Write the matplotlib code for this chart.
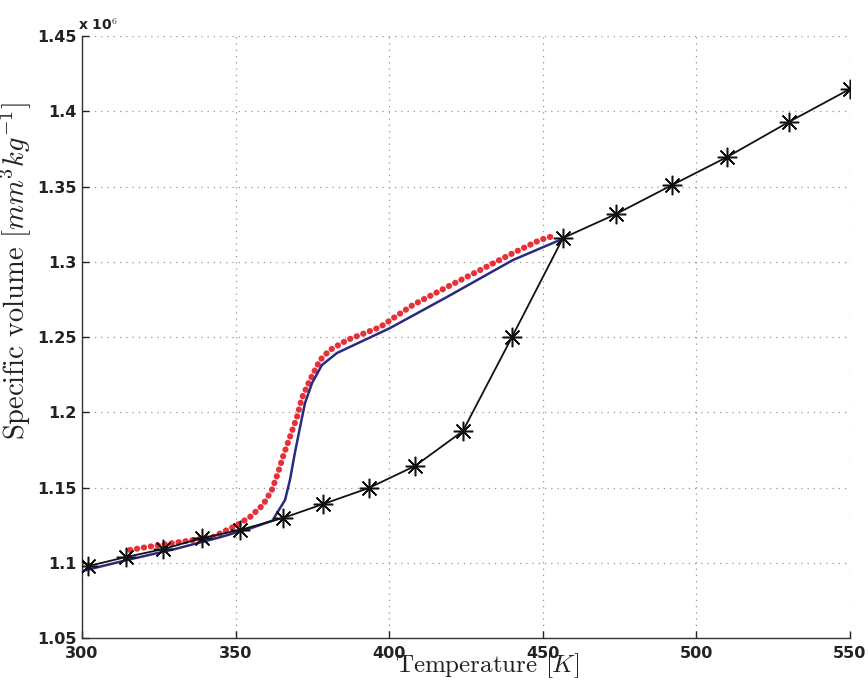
import matplotlib
matplotlib.use("Agg")
import matplotlib.pyplot as plt
from matplotlib.ticker import FuncFormatter, MultipleLocator

plt.rcParams['mathtext.fontset'] = 'cm'

# Black line with asterisks (equilibrium / model)
T_star = [302.0, 314.3, 326.4, 339.1, 351.4, 365.4, 378.5, 393.4, 408.4, 424.0,
          440.0, 456.6, 473.8, 492.1, 510.0, 530.1, 550.0]
V_star = [1.0978, 1.1038, 1.1091, 1.1164, 1.1218, 1.1297, 1.1390, 1.1497, 1.1643, 1.1875,
          1.2500, 1.3158, 1.3317, 1.3510, 1.3696, 1.3929, 1.4148]

# Red dotted series (measured)
T_red = [315.6, 321.2, 331.9, 342.6, 350.5, 354.7, 358.9, 361.8, 363.8, 365.4, 367.7,
         370.0, 371.6, 374.2, 377.5, 380.7, 386.3, 397.0, 407.7, 418.8, 429.6, 440.3,
         449.1, 453.3]
V_red = [1.1085, 1.1105, 1.1138, 1.1171, 1.1251, 1.1304, 1.1384, 1.1483, 1.1596, 1.1703,
         1.1836, 1.1968, 1.2095, 1.2214, 1.2347, 1.2414, 1.2480, 1.2566, 1.2713, 1.2832,
         1.2945, 1.3058, 1.3145, 1.3171]

# Blue solid series (simulated)
T_blue = [300.0, 315.0, 330.0, 345.0, 355.0, 362.0, 363.5, 366.1, 367.7, 369.3, 371.0,
          372.6, 374.9, 378.1, 383.0, 400.3, 418.8, 440.3, 455.6]
V_blue = [1.0945, 1.1020, 1.1090, 1.1170, 1.1230, 1.1280, 1.1331, 1.1417, 1.1550, 1.1729,
          1.1902, 1.2061, 1.2194, 1.2314, 1.2394, 1.2560, 1.2766, 1.3012, 1.3145]

scale = 1e6

fig = plt.figure(figsize=(8.68, 6.82), dpi=100)
ax = fig.add_axes([0.0945, 0.0645, 0.8845, 0.8825])

ax.plot(T_red, [v * scale for v in V_red], color='#e8303a', lw=4.4,
        linestyle=(0, (0.05, 1.1)), dash_capstyle='round', zorder=2)
ax.plot(T_blue, [v * scale for v in V_blue], color='#2a2a80', lw=1.8, zorder=3)
ax.plot(T_star, [v * scale for v in V_star], color='#111111', lw=1.3,
        marker=(8, 2, 0), markersize=14, markeredgewidth=1.1, zorder=4)

ax.set_xlim(300, 550)
ax.set_ylim(1.05 * scale, 1.45 * scale)
ax.xaxis.set_major_locator(MultipleLocator(50))
ax.yaxis.set_major_locator(MultipleLocator(0.05 * scale))
ax.yaxis.set_major_formatter(FuncFormatter(lambda v, _: f'{v / scale:g}'))

ax.grid(True, color='#a09090', linestyle=(0, (1, 4)), linewidth=0.9)
ax.set_axisbelow(True)
for s in ['top', 'right']:
    ax.spines[s].set_visible(False)
for s in ['left', 'bottom']:
    ax.spines[s].set_color('#333333')
    ax.spines[s].set_linewidth(1.0)

ax.tick_params(direction='in', length=5, width=1.0, colors='#222222',
               labelsize=11.5)
for lab in ax.get_xticklabels() + ax.get_yticklabels():
    lab.set_fontweight('bold')
ax.tick_params(axis='x', pad=6)
ax.tick_params(axis='y', pad=4)

ax.text(-0.005, 1.005, r'x 10$^{6}$', transform=ax.transAxes, fontsize=10,
        fontweight='bold', ha='left', va='bottom', color='#222222')

ax.set_xlabel(r'Temperature $[K]$', family='cmr10', fontsize=18, color='#222222')
ax.xaxis.set_label_coords(0.528, -0.022)
ax.set_ylabel(r'Specific volume $[mm^3kg^{-1}]$', family='cmr10',
              fontsize=20.5, color='#222222')
ax.yaxis.set_label_coords(-0.062, 0.61)

fig.savefig('out.png', dpi=100)
